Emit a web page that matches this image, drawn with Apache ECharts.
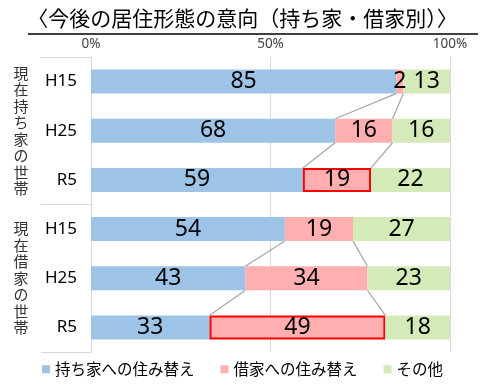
<!DOCTYPE html>
<html><head><meta charset="utf-8">
<script src="https://cdn.jsdelivr.net/npm/echarts@6/dist/echarts.min.js"></script>
<style>html,body{margin:0;padding:0;background:#fff}#c{width:485px;height:388px}</style>
</head><body><div id="c"></div>
<script>
var titleText = '〈今後の居住形態の意向（持ち家・借家別）〉';
var categories = ['H15', 'H25', 'R5', 'H15', 'H25', 'R5'];
var groups = ['現在持ち家の世帯', '現在借家の世帯'];
var seriesNames = ['持ち家への住み替え', '借家への住み替え', 'その他'];
var ownMove = [85, 68, 59, 54, 43, 33];
var rentMove = [2, 16, 19, 19, 34, 49];
var otherVals = [13, 16, 22, 27, 23, 18];
var highlightRows = [2, 5];

var FONT = '"Noto Sans CJK JP", "Noto Sans", sans-serif';
var LATIN = '"Noto Sans", "Noto Sans CJK JP", sans-serif';
var BAR_H = 24;
var colors = ['#9DC3E6', '#FFAFAF', '#D5EAB9'];

// connector lines between consecutive rows in the same group (pink segment edges)
var connData = [];
for (var i = 0; i < categories.length - 1; i++) {
  if (i === 2) continue;
  connData.push([ownMove[i], i, ownMove[i + 1], i + 1]);
  connData.push([ownMove[i] + rentMove[i], i, ownMove[i + 1] + rentMove[i + 1], i + 1]);
}

function mk(vals, idx) {
  return vals.map(function (v, i) {
    if (idx === 1 && highlightRows.indexOf(i) >= 0) {
      return { value: v, itemStyle: { borderColor: '#FF0000', borderWidth: 2 } };
    }
    return v;
  });
}

var chart = echarts.init(document.getElementById('c'));
var lbl = { show: true, position: 'inside', color: '#000', fontSize: 23, fontFamily: LATIN };
chart.setOption({
  animation: false,
  title: {
    text: titleText, left: 'center', top: 3,
    textStyle: { fontSize: 21, fontWeight: 'normal', color: '#000', fontFamily: FONT }
  },
  graphic: [{
    type: 'line', shape: { x1: 28, y1: 34, x2: 478, y2: 34 },
    style: { stroke: '#000', lineWidth: 1.5 }
  }],
  legend: {
    bottom: 6, left: 'center', icon: 'rect', itemWidth: 8, itemHeight: 8, itemGap: 26,
    data: seriesNames,
    textStyle: { fontSize: 15.5, color: '#000', fontFamily: FONT }
  },
  grid: { left: 91, top: 57, width: 359, height: 295 },
  xAxis: {
    type: 'value', min: 0, max: 100, interval: 50, position: 'top',
    axisLine: { show: false }, axisTick: { show: false },
    axisLabel: { formatter: '{value}%', fontSize: 13.5, color: '#404040', fontFamily: LATIN, margin: 6 },
    splitLine: { lineStyle: { color: '#D9D9D9', width: 1 } }
  },
  yAxis: [{
    type: 'category', inverse: true, data: categories,
    axisLine: { show: true, lineStyle: { color: '#D9D9D9' } },
    axisTick: { show: false },
    axisLabel: { fontSize: 17, color: '#000', fontFamily: LATIN, margin: 14 }
  }, {
    type: 'category', inverse: true, data: groups, position: 'left',
    axisLine: { show: false },
    axisTick: { show: true, length: 50, lineStyle: { color: '#D9D9D9' } },
    axisLabel: {
      fontSize: 15, lineHeight: 16.5, color: '#333', fontFamily: FONT, margin: 70, align: 'center',
      formatter: function (v) { return v.split('').join('\n'); }
    }
  }],
  series: [0, 1, 2].map(function (k) {
    return {
      name: seriesNames[k], type: 'bar', stack: 'a', barWidth: BAR_H,
      itemStyle: { color: colors[k] }, label: lbl,
      data: mk([ownMove, rentMove, otherVals][k], k)
    };
  }).concat([{
    type: 'custom', coordinateSystem: 'cartesian2d', silent: true, z: 5,
    encode: { x: [0, 2], y: [1, 3] },
    data: connData,
    renderItem: function (params, api) {
      var p1 = api.coord([api.value(0), api.value(1)]);
      var p2 = api.coord([api.value(2), api.value(3)]);
      return {
        type: 'line',
        shape: { x1: p1[0], y1: p1[1] + BAR_H / 2, x2: p2[0], y2: p2[1] - BAR_H / 2 },
        style: { stroke: '#A6A6A6', lineWidth: 1.2 }
      };
    }
  }])
});
</script></body></html>
